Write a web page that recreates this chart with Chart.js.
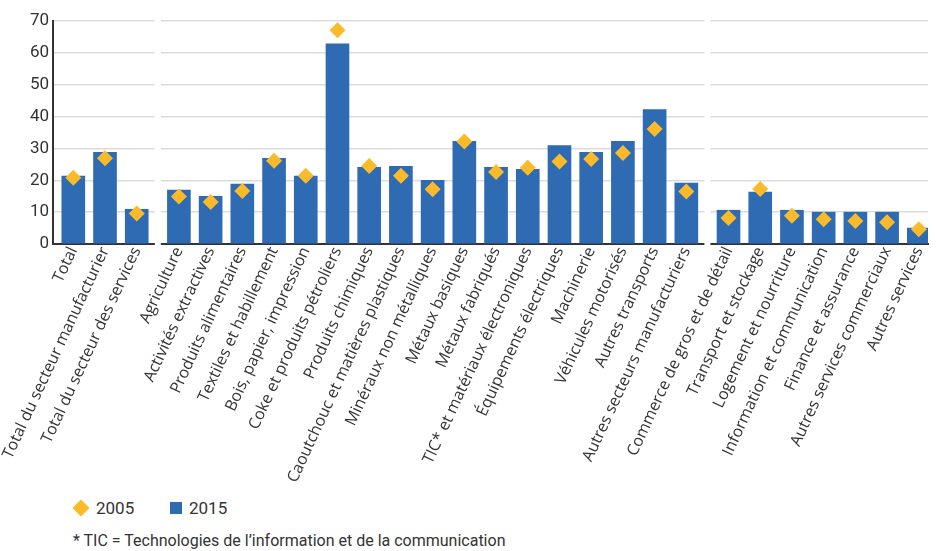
<!DOCTYPE html>
<html>
<head>
<meta charset="utf-8">
<script src="https://cdn.jsdelivr.net/npm/chart.js@4.4.0/dist/chart.umd.min.js"></script>
<style>
    body { margin: 0; background: #fff; width: 936px; height: 551px; overflow: hidden; position: relative; color: #333; font-family: Roboto, sans-serif; }
    #wrap { position: absolute; left: 0; top: 0; width: 936px; height: 492px; }
    .leg { position: absolute; top: 498px; font-size: 17px; line-height: 20px; }
    .diamond { position: absolute; width: 12px; height: 12px; background: #FBBA2A; transform: rotate(45deg); }
    .square { position: absolute; width: 12px; height: 12px; background: #2E6BB3; }
    #note { position: absolute; left: 73px; top: 531px; font-size: 16px; line-height: 20px; }
</style>
</head>
<body>
<div id="wrap"><canvas id="chart"></canvas></div>
<div class="diamond" style="left:75px;top:502px"></div>
<div class="leg" style="left:96px">2005</div>
<div class="square" style="left:170px;top:502px"></div>
<div class="leg" style="left:189px">2015</div>
<div id="note">* TIC = Technologies de l’information et de la communication</div>
<script>
    var categories = [
        "Total", "Total du secteur manufacturier", "Total du secteur des services",
        "Agriculture", "Activités extractives", "Produits alimentaires", "Textiles et habillement",
        "Bois, papier, impression", "Coke et produits pétroliers", "Produits chimiques",
        "Caoutchouc et matières plastiques", "Minéraux non métalliques", "Métaux basiques",
        "Métaux fabriqués", "TIC* et matériaux électroniques", "Équipements électriques",
        "Machinerie", "Véhicules motorisés", "Autres transports", "Autres secteurs manufacturiers",
        "Commerce de gros et de détail", "Transport et stockage", "Logement et nourriture",
        "Information et communication", "Finance et assurance", "Autres services commerciaux",
        "Autres services"
    ];
    var groupSizes = [3, 17, 7];

    var values2015 = [21.3, 28.8, 10.9, 16.9, 15.0, 18.8, 26.9, 21.3, 62.8, 24.1, 24.4, 20.0, 32.2,
        24.1, 23.4, 30.9, 28.8, 32.2, 42.2, 19.1, 10.6, 16.3, 10.6, 10.0, 10.0, 10.0, 5.0];
    var values2005 = [20.8, 26.9, 9.6, 14.9, 13.2, 16.6, 26.1, 21.4, 67.1, 24.5, 21.4, 17.2, 32.2,
        22.6, 23.9, 25.9, 26.7, 28.6, 36.1, 16.5, 8.2, 17.3, 8.9, 7.8, 7.2, 6.8, 4.6];

    var yTicks = [0, 10, 20, 30, 40, 50, 60, 70];

    // x position of each category: its index plus a small extra gap after every group
    var GROUP_GAP = 0.33;
    var xPos = [];
    var gapCenters = [];
    var idx = 0;
    groupSizes.forEach(function(n, g) {
        for (var k = 0; k < n; k++) {
            xPos.push(idx + g * GROUP_GAP);
            idx++;
        }
        if (g < groupSizes.length - 1) {
            gapCenters.push((xPos[idx - 1] + idx + (g + 1) * GROUP_GAP) / 2);
        }
    });

    function toPoints(values) {
        return values.map(function(v, i) { return { x: xPos[i], y: v }; });
    }

    // white-out the grid and axis lines between groups
    var gapPlugin = {
        id: 'groupGaps',
        beforeDatasetsDraw: function(chart) {
            var ctx = chart.ctx, xs = chart.scales.x, area = chart.chartArea;
            ctx.save();
            ctx.fillStyle = '#fff';
            gapCenters.forEach(function(v) {
                var px = xs.getPixelForValue(v);
                ctx.fillRect(px - 3, area.top - 2, 6, area.bottom - area.top + 4);
            });
            ctx.restore();
        }
    };

    var ctx = document.getElementById('chart').getContext('2d');
    var myChart = new Chart(ctx, {
        type: 'bar',
        data: {
            datasets: [{
                    type: 'line',
                    label: '2005',
                    data: toPoints(values2005),
                    showLine: false,
                    pointStyle: 'rectRot',
                    pointRadius: 8,
                    pointHoverRadius: 8,
                    pointBackgroundColor: '#FBBA2A',
                    pointBorderWidth: 0,
                    borderColor: '#FBBA2A',
                    order: 0
                },
                {
                    label: '2015',
                    data: toPoints(values2015),
                    backgroundColor: '#2E6BB3',
                    barThickness: 23,
                    order: 1
                }
            ]
        },
        options: {
            responsive: true,
            maintainAspectRatio: false,
            animation: false,
            layout: { padding: { top: 21, left: 0, right: 0, bottom: 0 } },
            plugins: {
                legend: { display: false },
                tooltip: { enabled: false }
            },
            scales: {
                x: {
                    type: 'linear',
                    offset: false,
                    min: -0.64,
                    max: 26.95,
                    grid: { display: false, drawTicks: false },
                    border: { display: true, color: '#333', width: 2 },
                    afterBuildTicks: function(scale) {
                        scale.ticks = xPos.map(function(v) { return { value: v }; });
                    },
                    afterFit: function(scale) {
                        scale.height = 248;
                        scale.paddingLeft = 0;
                        scale.paddingRight = 0;
                    },
                    ticks: {
                        autoSkip: false,
                        minRotation: 65,
                        maxRotation: 65,
                        padding: 0,
                        color: '#333',
                        font: { family: 'Open Sans', size: 16 },
                        callback: function(value, index) { return categories[index]; }
                    }
                },
                y: {
                    min: 0,
                    max: 70,
                    afterBuildTicks: function(scale) {
                        scale.ticks = yTicks.map(function(v) { return { value: v }; });
                    },
                    afterFit: function(scale) { scale.width = 53; },
                    grid: { color: '#dcdcdc', lineWidth: 1.5, drawTicks: false },
                    border: { display: true, color: '#333', width: 2 },
                    ticks: {
                        padding: 4,
                        color: '#333',
                        font: { family: 'Roboto', size: 17 }
                    }
                }
            }
        },
        plugins: [gapPlugin]
    });
</script>
</body>
</html>
